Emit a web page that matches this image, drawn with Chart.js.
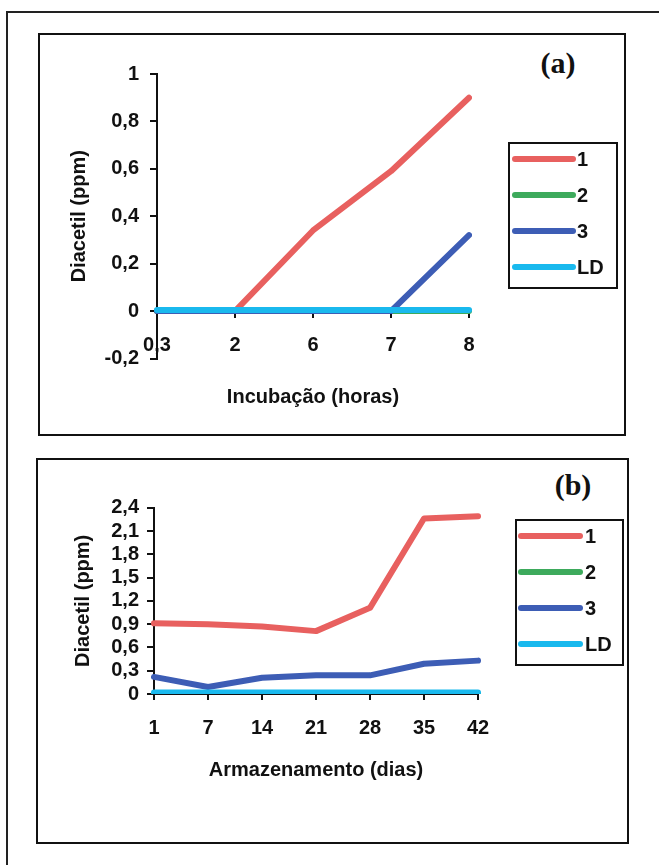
<!DOCTYPE html>
<html><head><meta charset="utf-8">
<script src="https://cdn.jsdelivr.net/npm/chart.js@4"></script>
<style>
html,body{margin:0;padding:0;background:#fff;width:659px;height:865px;overflow:hidden;}
.frame{position:absolute;left:6px;top:11px;width:720px;height:920px;border:2px solid #222;box-sizing:border-box;}
.panel{position:absolute;border:2px solid #111;box-sizing:border-box;}
canvas{position:absolute;}
.tag{position:absolute;font-family:"Liberation Serif","Times New Roman",serif;font-weight:bold;font-size:30px;color:#111;transform:translate(-50%,-50%);line-height:1;}
</style></head><body>
<div class="frame"></div>
<div class="panel" style="left:38px;top:33px;width:588px;height:403px"></div>
<div class="panel" style="left:36px;top:458px;width:593px;height:386px"></div>
<div class="tag" style="left:558px;top:63px">(a)</div>
<div class="tag" style="left:573px;top:485px">(b)</div>
<canvas id="ca" width="587" height="402" style="left:38px;top:33px"></canvas>
<canvas id="cb" width="592" height="385" style="left:36px;top:458px"></canvas>
<script>
// ---- data ----
const seriesNames = ['1', '2', '3', 'LD'];
const seriesColors = ['#E8605F', '#3DAA5C', '#3D5DB5', '#19B9EE'];

const catsA = ['0,3', '2', '6', '7', '8'];
const a1 = [0, 0, 0.34, 0.59, 0.9];
const a2 = [0, 0, 0, 0, 0];
const a3 = [0, 0, 0, 0, 0.32];
const aLD = [0.005, 0.005, 0.005, 0.005, 0.005];
const yTicksA = [-0.2, 0, 0.2, 0.4, 0.6, 0.8, 1];

const catsB = ['1', '7', '14', '21', '28', '35', '42'];
const b1 = [0.91, 0.9, 0.87, 0.81, 1.11, 2.26, 2.29];
const b2 = [0, 0, 0, 0, 0, 0, 0];
const b3 = [0.22, 0.09, 0.21, 0.24, 0.24, 0.39, 0.43];
const bLD = [0.02, 0.02, 0.02, 0.02, 0.02, 0.02, 0.02];
const yTicksB = [0, 0.3, 0.6, 0.9, 1.2, 1.5, 1.8, 2.1, 2.4];

// ---- helpers ----
const FONT = '"Liberation Sans", Arial, sans-serif';
const fmt = v => (Math.round(v * 10) / 10).toString().replace('.', ',');

const boxLegend = {
  id: 'boxLegend',
  afterDraw(chart, args, o) {
    const ctx = chart.ctx;
    ctx.save();
    ctx.lineWidth = 2; ctx.strokeStyle = '#111';
    ctx.strokeRect(o.x, o.y, o.w, o.h);
    chart.data.datasets.forEach((ds, i) => {
      const y = o.firstY + i * o.gap;
      ctx.beginPath(); ctx.lineCap = 'round'; ctx.lineWidth = o.lw; ctx.strokeStyle = ds.borderColor;
      ctx.moveTo(o.x0, y); ctx.lineTo(o.x1, y); ctx.stroke();
      ctx.fillStyle = '#111'; ctx.font = 'bold 20px ' + FONT; ctx.textBaseline = 'middle'; ctx.textAlign = 'left';
      ctx.fillText(ds.label, o.tx, y + 1);
    });
    ctx.restore();
  }
};

function makeSets(arrs, lw) {
  const orders = [4, 3, 2, 1];
  return arrs.map((d, i) => ({
    label: seriesNames[i], data: d, borderColor: seriesColors[i], backgroundColor: seriesColors[i],
    borderWidth: lw, pointRadius: 0, tension: 0, borderCapStyle: 'round', borderJoinStyle: 'round',
    order: orders[i], fill: false
  }));
}

function axisCommon(tickPad, tl) {
  return {
    grid: { drawOnChartArea: false, drawTicks: true, tickLength: tl, color: '#111', lineWidth: 2 },
    border: { display: true, color: '#111', width: 2 },
    ticks: { color: '#111', padding: tickPad, font: { family: FONT, size: 20, weight: 'bold' }, maxRotation: 0, autoSkip: false }
  };
}

// ---- chart (a) ----
const xa = axisCommon(16, 6);
const ya = axisCommon(11, 7);
new Chart(document.getElementById('ca'), {
  type: 'line',
  data: { labels: catsA, datasets: makeSets([a1, a2, a3, aLD], 6) },
  plugins: [boxLegend],
  options: {
    responsive: false, animation: false,
    layout: { padding: { left: 0, top: 41, right: 156, bottom: 76.5 } },
    plugins: {
      legend: { display: false }, tooltip: { enabled: false },
      boxLegend: { x: 471, y: 110, w: 108, h: 145, x0: 477, x1: 535, tx: 539, firstY: 126, gap: 36, lw: 6 }
    },
    scales: {
      x: Object.assign({}, xa, {
        type: 'category', position: { y: 0 }, offset: false,
        title: { display: true, text: 'Incubação (horas)', color: '#111', font: { family: FONT, size: 20, weight: 'bold' }, padding: { top: 0, bottom: 12 } },
        afterFit(s) { s.height = 110; }
      }),
      y: Object.assign({}, ya, {
        type: 'linear', min: -0.2, max: 1,
        ticks: Object.assign({}, ya.ticks, { callback: v => fmt(v) }),
        afterBuildTicks(s) { s.ticks = yTicksA.map(v => ({ value: v })); },
        title: { display: true, text: 'Diacetil (ppm)', color: '#111', font: { family: FONT, size: 20, weight: 'bold' }, padding: { top: 29, bottom: 0 } },
        afterFit(s) { s.width = 119; }
      })
    }
  }
});

// ---- chart (b) ----
const xb = axisCommon(16, 6);
const yb = axisCommon(8, 7);
new Chart(document.getElementById('cb'), {
  type: 'line',
  data: { labels: catsB, datasets: makeSets([b1, b2, b3, bLD], 6) },
  plugins: [boxLegend],
  options: {
    responsive: false, animation: false,
    layout: { padding: { left: 0, top: 49.7, right: 150, bottom: 0 } },
    plugins: {
      legend: { display: false }, tooltip: { enabled: false },
      boxLegend: { x: 480, y: 62, w: 107, h: 145, x0: 485, x1: 544, tx: 549, firstY: 78, gap: 36, lw: 6 }
    },
    scales: {
      x: Object.assign({}, xb, {
        type: 'category', offset: false,
        title: { display: true, text: 'Armazenamento (dias)', color: '#111', font: { family: FONT, size: 20, weight: 'bold' }, padding: { top: 0, bottom: 61 } },
        afterFit(s) { s.height = 149; }
      }),
      y: Object.assign({}, yb, {
        type: 'linear', min: 0, max: 2.4,
        ticks: Object.assign({}, yb.ticks, { callback: v => fmt(v) }),
        afterBuildTicks(s) { s.ticks = yTicksB.map(v => ({ value: v })); },
        title: { display: true, text: 'Diacetil (ppm)', color: '#111', font: { family: FONT, size: 20, weight: 'bold' }, padding: { top: 35, bottom: 0 } },
        afterFit(s) { s.width = 118; }
      })
    }
  }
});
</script>
</body></html>
